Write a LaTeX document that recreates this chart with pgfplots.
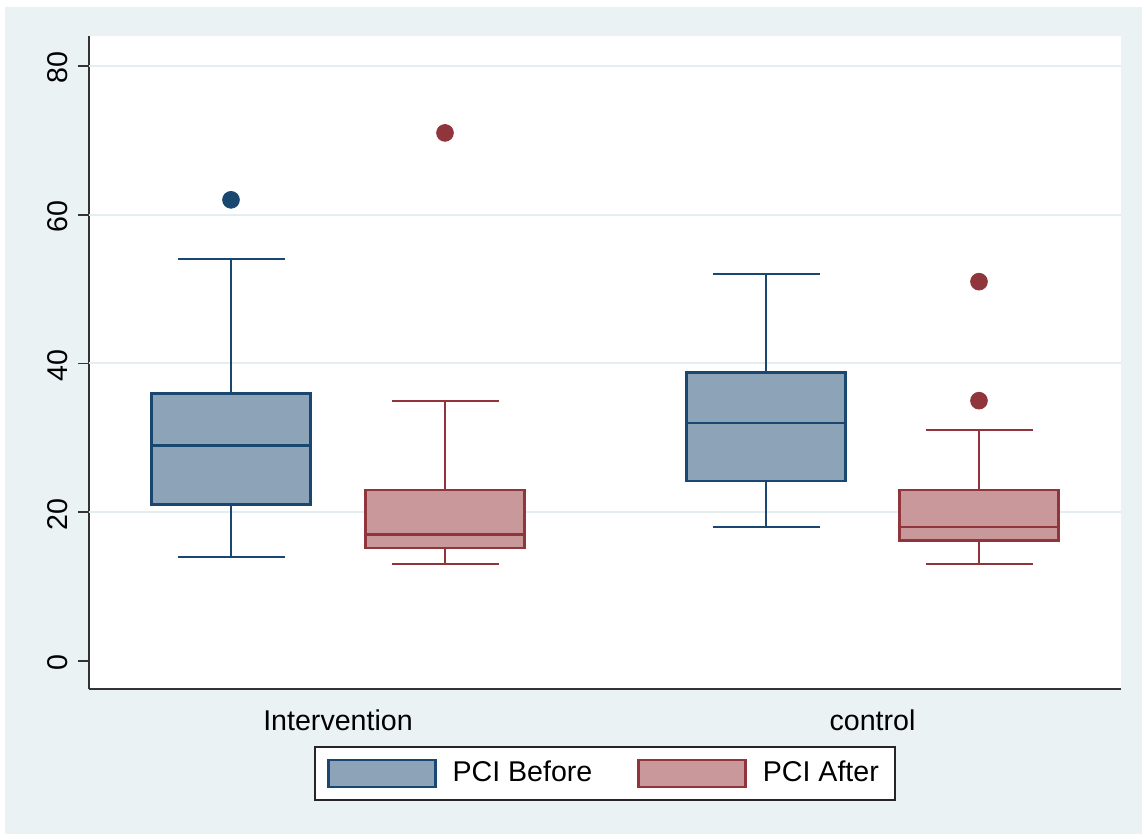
\documentclass[border=0pt]{standalone}
\usepackage{fontspec}
\setmainfont{Liberation Sans}
\usepackage{pgfplots}
\pgfplotsset{compat=1.18}
\definecolor{bg}{RGB}{234,242,243}
\definecolor{navy}{RGB}{26,71,111}
\definecolor{navyfill}{RGB}{141,163,183}
\definecolor{maroon}{RGB}{144,53,59}
\definecolor{maroonfill}{RGB}{200,152,155}
\definecolor{gridc}{RGB}{228,238,240}
\pgfplotsset{
  whisk/.style={line width=1.05pt, line cap=butt, unbounded coords=jump, mark=none},
  boxs/.style={line width=1.3pt, line join=miter, mark=none},
  meds/.style={line width=1.3pt, mark=none},
  outl/.style={only marks, mark=*, mark size=4.2pt, mark options={line width=0pt}},
}
\begin{document}
\fontsize{14.3}{17}\selectfont
\begin{tikzpicture}
\fill[white] (0,0) rectangle (571pt,417pt);
\fill[bg] (2.5pt,0) rectangle (571pt,413.5pt);
\useasboundingbox (0,0) rectangle (571pt,417pt);
\begin{axis}[
  at={(44.5pt,72.5pt)}, anchor=south west,
  scale only axis, width=516pt, height=326.5pt,
  xmin=89, xmax=1121, ymin=-3.765, ymax=84.03,
  axis x line*=bottom, axis y line*=left,
  axis line style={draw=black!80, line width=1pt, -},
  axis background/.style={fill=white},
  xtick={338,872.5}, xticklabels={Intervention,control},
  ytick={0,20,40,60,80},
  extra y ticks={20,40,60,80}, extra y tick labels={},
  extra y tick style={grid=major, major tick length=0pt},
  grid style={gridc, line width=1pt},
  tick align=outside, major tick length=5.5pt,
  xtick style={draw=none},
  ytick style={draw=black!80, line width=0.8pt},
  yticklabel style={rotate=90, anchor=south, xshift=-1pt},
  /pgf/number format/assume math mode=true,
  ticklabel style={font=\fontsize{14.3}{17}\selectfont, text=black},
  legend style={at={(0.5,-0.0873)}, anchor=north, legend columns=2,
    draw=black!85, line width=0.8pt, fill=white,
    font=\fontsize{14.3}{17}\selectfont,
    /tikz/every odd column/.append style={column sep=6pt},
    /tikz/every even column/.append style={column sep=20.5pt},
    inner xsep=6pt, inner ysep=5pt},
]
% ---- Intervention, PCI Before (centre 231)
\addplot[forget plot, navy, whisk] coordinates {(177.5,14)(284.5,14) (nan,nan) (231,14)(231,21) (nan,nan) (231,36)(231,54) (nan,nan) (177.5,54)(284.5,54)};
\addplot[forget plot, draw=navy, fill=navyfill, boxs] coordinates {(151.5,21)(310.5,21)(310.5,36)(151.5,36)} -- cycle;
\addplot[forget plot, navy, meds] coordinates {(151.5,29)(310.5,29)};
\addplot[forget plot, navy, outl, mark options={fill=navy, draw=navy}] coordinates {(231,62)};
% ---- Intervention, PCI After (centre 445)
\addplot[forget plot, maroon, whisk] coordinates {(391.5,13)(498.5,13) (nan,nan) (445,13)(445,15.2) (nan,nan) (445,23)(445,35) (nan,nan) (391.5,35)(498.5,35)};
\addplot[forget plot, draw=maroon, fill=maroonfill, boxs] coordinates {(365.5,15.2)(524.5,15.2)(524.5,23)(365.5,23)} -- cycle;
\addplot[forget plot, maroon, meds] coordinates {(365.5,17)(524.5,17)};
\addplot[forget plot, maroon, outl, mark options={fill=maroon, draw=maroon}] coordinates {(445,71)};
% ---- control, PCI Before (centre 766)
\addplot[forget plot, navy, whisk] coordinates {(712.5,18)(819.5,18) (nan,nan) (766,18)(766,24.2) (nan,nan) (766,38.8)(766,52) (nan,nan) (712.5,52)(819.5,52)};
\addplot[forget plot, draw=navy, fill=navyfill, boxs] coordinates {(686.5,24.2)(845.5,24.2)(845.5,38.8)(686.5,38.8)} -- cycle;
\addplot[forget plot, navy, meds] coordinates {(686.5,32)(845.5,32)};
% ---- control, PCI After (centre 979)
\addplot[forget plot, maroon, whisk] coordinates {(925.5,13)(1032.5,13) (nan,nan) (979,13)(979,16.2) (nan,nan) (979,23)(979,31) (nan,nan) (925.5,31)(1032.5,31)};
\addplot[forget plot, draw=maroon, fill=maroonfill, boxs] coordinates {(899.5,16.2)(1058.5,16.2)(1058.5,23)(899.5,23)} -- cycle;
\addplot[forget plot, maroon, meds] coordinates {(899.5,18)(1058.5,18)};
\addplot[forget plot, maroon, outl, mark options={fill=maroon, draw=maroon}] coordinates {(979,51) (979,35)};
% ---- legend
\addlegendimage{legend image code/.code={\draw[draw=navy, fill=navyfill, line width=1.2pt] (0pt,-6.75pt) rectangle (53.5pt,6.75pt);}}
\addlegendentry{PCI Before}
\addlegendimage{legend image code/.code={\draw[draw=maroon, fill=maroonfill, line width=1.2pt] (0pt,-6.75pt) rectangle (53.5pt,6.75pt);}}
\addlegendentry{PCI After}
\end{axis}
\end{tikzpicture}
\end{document}
